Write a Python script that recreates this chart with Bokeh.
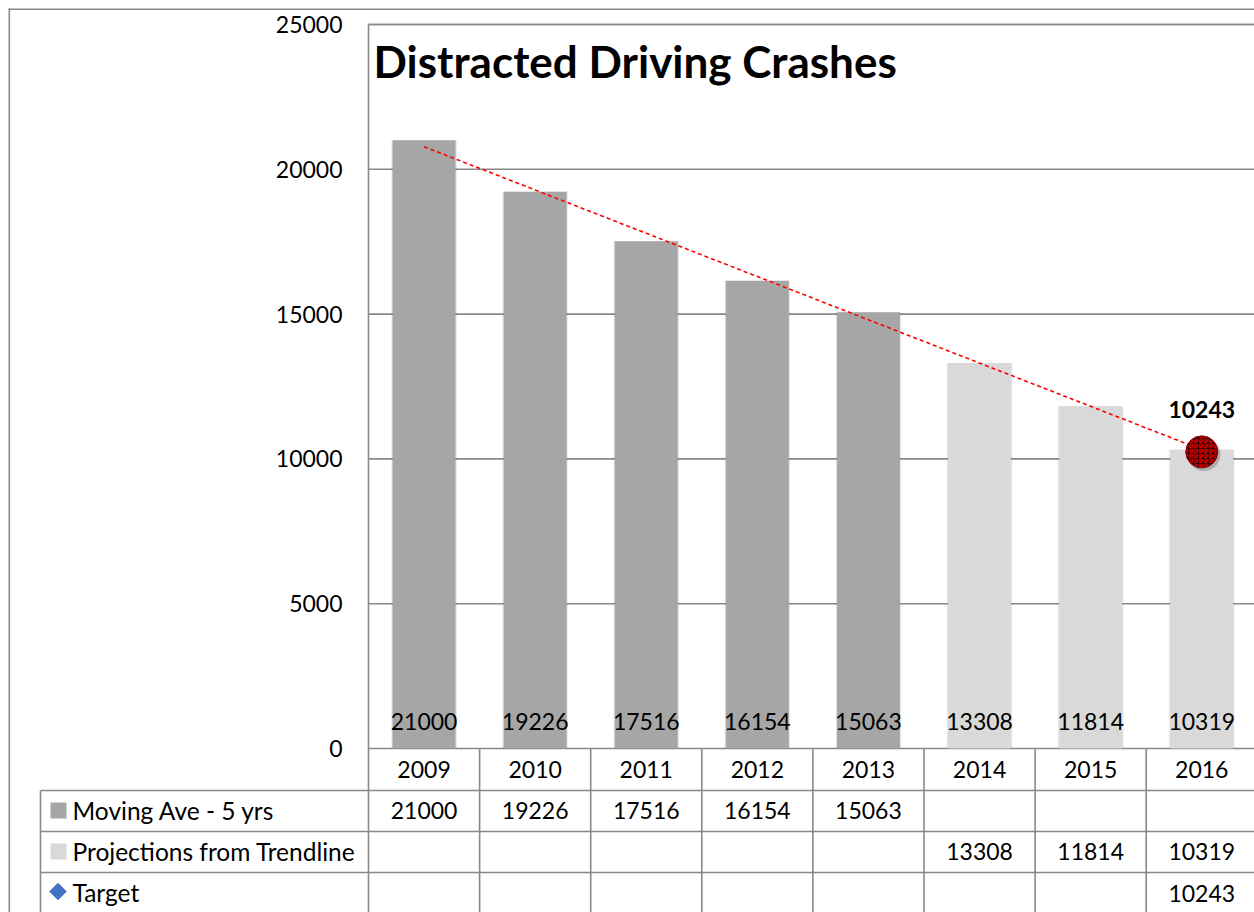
import math
from bokeh.plotting import figure
from bokeh.models import Range1d
from bokeh.core.properties import value
from bokeh.embed import file_html
from bokeh.resources import INLINE

# ---------------- data ----------------
years = ["2009", "2010", "2011", "2012", "2013", "2014", "2015", "2016"]
moving_ave = [21000, 19226, 17516, 16154, 15063, None, None, None]
projections = [None, None, None, None, None, 13308, 11814, 10319]
target_year = "2016"
target_value = 10243
trend_years = ["2009", "2016"]
trend_values = [20780, 10320]
y_ticks = [0, 5000, 10000, 15000, 20000, 25000]
title_text = "Distracted Driving Crashes"
row_labels = ["Moving Ave - 5 yrs", "Projections from Trendline", "Target"]

# ---------------- layout helpers (pixel -> data) ----------------
W, H = 1254, 912
PLOT_L = 368.0
CAT_W = 111.1
ZERO_Y = 748.0
PX_PER_VAL = 724.0 / 25000.0

def X(px):
    return -0.5 + (px - PLOT_L) / CAT_W

def Y(py):
    return (ZERO_Y - py) / PX_PER_VAL

FONT = value("Lato")
GRID_C = "#898989"
DARK = "#A6A6A6"
LIGHT = "#D9D9D9"

p = figure(width=W, height=H, x_range=Range1d(X(0), X(W)),
           y_range=Range1d(Y(H), Y(0)),
           x_axis_location=None, y_axis_location=None,
           toolbar_location=None, output_backend="svg", min_border=0)
p.grid.visible = False
p.outline_line_color = None
p.background_fill_color = "white"
p.border_fill_color = "white"

xi = {y: i for i, y in enumerate(years)}
x_end = X(W)

def txt(xs, ys, texts, size="23px", align="center", style="normal"):
    p.text(x=xs, y=ys, text=texts, text_font=FONT, text_font_size=size,
           text_align=align, text_baseline="middle", text_color="black",
           text_font_style=style)

# gridlines
p.segment(x0=[-0.5] * len(y_ticks), x1=[x_end] * len(y_ticks), y0=y_ticks, y1=y_ticks,
          line_color=GRID_C, line_width=1.6)

# bars (with soft shadow)
ma_x = [i for i, v in enumerate(moving_ave) if v is not None]
ma_v = [v for v in moving_ave if v is not None]
pr_x = [i for i, v in enumerate(projections) if v is not None]
pr_v = [v for v in projections if v is not None]
for xs, vs, col in ((ma_x, ma_v, DARK), (pr_x, pr_v, LIGHT)):
    p.vbar(x=xs, top=vs, bottom=0, width=0.595, fill_color="black", fill_alpha=0.05, line_color=None)
    p.vbar(x=xs, top=vs, bottom=0, width=0.58, fill_color="black", fill_alpha=0.06, line_color=None)
    p.vbar(x=xs, top=vs, bottom=0, width=0.567, fill_color=col, line_color=None)

# data labels inside bars (bottom)
lab_x = ma_x + pr_x
lab_t = [str(v) for v in ma_v + pr_v]
txt(lab_x, [Y(721)] * len(lab_x), lab_t)

# trendline
p.line(x=[xi[y] for y in trend_years], y=trend_values, line_color="#FF0000", line_width=1.6,
       line_dash="4 3")

# target marker
tx = xi[target_year]
p.scatter(x=[tx + 0.02], y=[target_value - 90], size=33, marker="circle", fill_color="black",
          fill_alpha=0.2, line_color=None)
p.scatter(x=[tx], y=[target_value], size=32, marker="circle", fill_color="#D00000",
          line_color="#900000", line_width=1, hatch_pattern="criss_cross", hatch_color="#200000",
          hatch_scale=5, hatch_weight=1.0, hatch_alpha=0.6)
txt([tx], [target_value + (451.4 - 409) / PX_PER_VAL], [str(target_value)], style="bold")

# y tick labels
txt([X(342)] * len(y_ticks), y_ticks, [str(v) for v in y_ticks], align="right")

# title
txt([X(373)], [Y(60)], [title_text], size="44px", align="left", style="bold")

# frame / outer borders
p.segment(x0=[X(8), X(8.8), X(PLOT_L), X(PLOT_L)],
          x1=[x_end, X(8.8), x_end, X(PLOT_L)],
          y0=[Y(8.8), Y(8), Y(24), Y(24)],
          y1=[Y(8.8), Y(H), Y(24), Y(H)],
          line_color=GRID_C, line_width=1.6)

# data table lines
row_lines = [790, 831, 872]
p.segment(x0=[X(40)] * 3, x1=[x_end] * 3, y0=[Y(r) for r in row_lines], y1=[Y(r) for r in row_lines],
          line_color=GRID_C, line_width=1.6)
p.segment(x0=[X(40)], x1=[X(40)], y0=[Y(790)], y1=[Y(H)], line_color=GRID_C, line_width=1.6)
p.segment(x0=[i + 0.5 for i in range(len(years) - 1)], x1=[i + 0.5 for i in range(len(years) - 1)],
          y0=[0] * (len(years) - 1), y1=[Y(H)] * (len(years) - 1), line_color=GRID_C, line_width=1.6)

# table: years row
txt(list(range(len(years))), [Y(769)] * len(years), years)
# table: series rows
txt(ma_x, [Y(810)] * len(ma_x), [str(v) for v in ma_v])
txt(pr_x, [Y(851)] * len(pr_x), [str(v) for v in pr_v])
txt([tx], [Y(892.5)], [str(target_value)])

# table: row headers with legend keys
p.scatter(x=[X(58), X(58)], y=[Y(810), Y(851)], marker="square", size=16,
          fill_color=[DARK, LIGHT], line_color=None)
p.scatter(x=[X(57.5)], y=[Y(891)], marker="square", size=12, angle=math.pi / 4,
          fill_color="#4472C4", line_color="#3A65B0", line_width=0.5)
txt([X(72)] * 3, [Y(810), Y(851), Y(891.5)], row_labels, size="24.5px", align="left")

open("out.html", "w").write(file_html(p, INLINE))
